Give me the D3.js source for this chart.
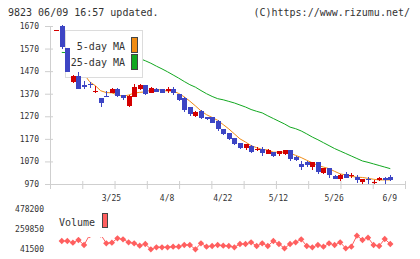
<!DOCTYPE html>
<html>
<head>
<meta charset="utf-8">
<script src="https://cdn.jsdelivr.net/npm/d3@7"></script>
<style>
  body { margin: 0; background: #fff; }
  svg { display: block; }
  text { font-family: "DejaVu Sans Mono", monospace; fill: #333; }
</style>
</head>
<body>
<script>
// trading days shown on the chart
const dates = [
  "3/10","3/11","3/12","3/13","3/14","3/17","3/18","3/19","3/21","3/24",
  "3/25","3/26","3/27","3/28","3/31","4/1","4/2","4/3","4/4","4/7","4/8",
  "4/9","4/10","4/11","4/14","4/15","4/16","4/17","4/18","4/21","4/22",
  "4/23","4/24","4/25","4/28","4/30","5/1","5/7","5/8","5/9","5/12",
  "5/13","5/14","5/15","5/16","5/19","5/20","5/21","5/22","5/23","5/26",
  "5/27","5/28","5/29","5/30","6/2","6/3","6/4","6/5","6/6","6/9"
];
const tickDates = ["3/25", "4/8", "4/22", "5/12", "5/26", "6/9"];
const priceTicks = [970, 1070, 1170, 1270, 1370, 1470, 1570, 1670];
const volTicks = [41500, 259850, 478200];

const open = [1651,1670,1571,1420,1450,1407,1415,1377,1350,1362,
  1374,1393,1363,1314,1357,1390,1408,1375,1391,1389,
  1382,1390,1368,1353,1309,1271,1295,1267,1267,1249,
  1212,1194,1172,1150,1129,1140,1121,1123,1105,1111,
  1101,1104,1119,1089,1060,1067,1045,1066,1020,1040,
  1005,990,1015,1005,1003,978,993,975,986,996,1000];
const high = [1651,1675,1573,1455,1467,1425,1421,1403,1352,1381,
  1395,1395,1365,1363,1413,1413,1410,1400,1397,1391,
  1400,1399,1370,1355,1311,1295,1297,1269,1269,1255,
  1214,1196,1174,1152,1148,1142,1133,1133,1126,1113,
  1116,1121,1121,1092,1074,1071,1067,1068,1042,1042,
  1010,1015,1022,1019,1008,993,1000,986,1002,1003,1012];
const low = [1651,1568,1465,1418,1393,1393,1394,1374,1309,1356,
  1372,1354,1341,1309,1355,1386,1366,1371,1376,1371,
  1375,1363,1338,1288,1271,1269,1260,1253,1240,1205,
  1189,1163,1145,1127,1120,1109,1115,1095,1103,1091,
  1093,1100,1071,1070,1030,1044,1034,1015,1013,998,
  991,982,996,996,974,970,971,972,984,971,985];
const close = [1651,1578,1467,1448,1393,1401,1408,1380,1331,1357,
  1393,1360,1353,1359,1400,1408,1368,1396,1378,1374,
  1393,1371,1341,1300,1278,1288,1262,1257,1242,1212,
  1191,1169,1147,1129,1146,1111,1123,1107,1120,1093,
  1114,1119,1082,1075,1045,1052,1066,1022,1040,1008,
  993,1011,998,1011,986,991,988,981,996,986,989];

const ma5 = [null,1656,1600,1545,1507,1457,1423,1406,1383,1375,
  1374,1364,1359,1364,1373,1376,1378,1386,1390,1385,
  1382,1382,1371,1356,1337,1316,1294,1277,1265,1252,
  1233,1214,1192,1170,1156,1140,1131,1123,1121,1111,
  1111,1111,1106,1097,1087,1075,1064,1052,1045,1038,
  1026,1015,1010,1004,1000,999,995,991,988,988,988];
const ma25 = [null,1553,1552,1550,1548,1546,1544,1542,1540,1538,
  1536,1534,1532,1530,1528,1526,1516,1505,1492,1480,
  1467,1453,1439,1424,1410,1399,1384,1370,1358,1348,
  1343,1336,1329,1320,1311,1300,1292,1285,1272,1260,
  1248,1236,1222,1215,1205,1192,1178,1166,1153,1140,
  1127,1116,1105,1094,1083,1072,1066,1059,1052,1045,1038];

const volume = [null,128800,128800,110300,139800,85200,194300,240000,198700,103700,
  110300,158300,147400,114600,103700,77500,96100,38200,60100,60100,
  60100,66600,66600,85200,85200,38200,103700,66600,74300,85200,
  77500,74300,60100,96100,96100,114600,74300,103700,74300,128800,
  96100,49100,96100,114600,147400,74300,60100,85200,66600,103700,
  85200,114600,49100,66600,186700,139800,164900,85200,74300,150700,96100];

const upColor = "#d40000", downColor = "#3d45c4";
const ma5Color = "#f08c14", ma25Color = "#12a820", volColor = "#ff5f5f";
const axisColor = "#cfcfcf";

const svg = d3.select("body").append("svg")
  .attr("width", 420)
  .attr("height", 259);

const x = d3.scaleLinear().domain([0, dates.length - 1]).range([56.2, 390.3]);
const y = d3.scaleLinear().domain([970, 1670]).range([184, 26]);
const yv = d3.scaleLinear().domain([41500, 478200]).range([249, 209]);
const grid = d3.scaleLinear().domain([0, 11]).range([50, 405]);

// header
svg.append("text").attr("x", 8).attr("y", 16).style("font-size", "10px")
  .text("9823 06/09 16:57 updated.");
svg.append("text").attr("x", 410).attr("y", 16).attr("text-anchor", "end")
  .style("font-size", "10px").text("(C)https://www.rizumu.net/");

// x axis (week marks)
const xAxis = svg.append("g")
  .attr("transform", "translate(0,184)")
  .call(d3.axisBottom(grid).tickValues(d3.range(12)).tickSize(5).tickSizeOuter(0).tickFormat(""));
xAxis.selectAll(".tick line").attr("y1", -3);
xAxis.selectAll("path, line").attr("stroke", axisColor);

// y axis
const yAxis = svg.append("g")
  .attr("transform", "translate(50,0)")
  .call(d3.axisLeft(y).tickValues(priceTicks).tickFormat(d => String(d))
    .tickSize(5).tickPadding(6).tickSizeOuter(0));
yAxis.selectAll(".tick line").attr("x1", 3);
yAxis.selectAll("path, line").attr("stroke", axisColor);
yAxis.selectAll("text").style("font-size", "8px").attr("fill", "#333");

// date labels
const dAxis = svg.append("g")
  .attr("transform", "translate(-1,190)")
  .call(d3.axisBottom(x)
    .tickValues(tickDates.map(d => dates.indexOf(d)))
    .tickFormat(i => dates[i])
    .tickSize(0).tickPadding(5));
dAxis.select(".domain").remove();
dAxis.selectAll("text").style("font-size", "8px").attr("fill", "#333");

// moving averages
const maLine = d3.line()
  .defined(d => d != null)
  .x((d, i) => x(i))
  .y(d => y(d));

svg.append("path").datum(ma25)
  .attr("d", maLine).attr("fill", "none")
  .attr("stroke", ma25Color).attr("stroke-width", 1);
svg.append("path").datum(ma5)
  .attr("d", maLine).attr("fill", "none")
  .attr("stroke", ma5Color).attr("stroke-width", 1);

// legend (covers the start of the MA lines)
const legend = svg.append("g");
legend.append("rect")
  .attr("x", 65.5).attr("y", 30.5).attr("width", 77).attr("height", 47)
  .attr("fill", "#fff").attr("stroke", "#dcdcdc");
[["5-day MA", ma5Color, 49.5, 37.5], ["25-day MA", ma25Color, 66, 54.5]].forEach(([label, col, ty, ry]) => {
  legend.append("text").attr("x", 125).attr("y", ty).attr("text-anchor", "end")
    .style("font-size", "10px").text(label);
  legend.append("rect").attr("x", 131.5).attr("y", ry).attr("width", 6).attr("height", 15)
    .attr("fill", col).attr("stroke", "#444");
});

// candles
const candles = svg.append("g").attr("shape-rendering", "crispEdges")
  .selectAll("g")
  .data(dates.map((d, i) => ({ i, o: open[i], h: high[i], l: low[i], c: close[i] })))
  .join("g");

candles.append("line")
  .attr("x1", d => Math.round(x(d.i)) + 0.5)
  .attr("x2", d => Math.round(x(d.i)) + 0.5)
  .attr("y1", d => y(d.h))
  .attr("y2", d => y(d.l))
  .attr("stroke", d => d.c >= d.o ? upColor : downColor);

candles.append("rect")
  .attr("x", d => Math.round(x(d.i)) - 2)
  .attr("width", 5)
  .attr("y", d => y(Math.max(d.o, d.c)))
  .attr("height", d => Math.max(1, Math.abs(y(d.o) - y(d.c))))
  .attr("fill", d => d.c >= d.o ? upColor : downColor);

// volume
const vAxis = svg.append("g")
  .attr("transform", "translate(44,0)")
  .call(d3.axisLeft(yv).tickValues(volTicks).tickFormat(d => String(d))
    .tickSize(0).tickPadding(0));
vAxis.select(".domain").remove();
vAxis.selectAll("text").style("font-size", "8px").attr("fill", "#333");

svg.append("path").datum(volume)
  .attr("d", d3.line().defined(d => d != null).x((d, i) => x(i)).y(d => yv(d)))
  .attr("fill", "none").attr("stroke", volColor).attr("stroke-width", 1);

svg.append("g").selectAll("path")
  .data(volume.map((v, i) => ({ v, i })).filter(d => d.v != null))
  .join("path")
  .attr("d", d3.symbol(d3.symbolSquare, 20))
  .attr("transform", d => `translate(${x(d.i)},${yv(d.v)}) rotate(45)`)
  .attr("fill", volColor);

const vLegend = svg.append("g");
vLegend.append("rect")
  .attr("x", 55).attr("y", 206).attr("width", 58).attr("height", 31)
  .attr("fill", "#fff");
vLegend.append("text").attr("x", 59).attr("y", 226)
  .style("font-size", "10px").text("Volume");
vLegend.append("rect").attr("x", 102.5).attr("y", 213.5).attr("width", 5).attr("height", 14)
  .attr("fill", volColor).attr("stroke", "#444");
</script>
</body>
</html>
